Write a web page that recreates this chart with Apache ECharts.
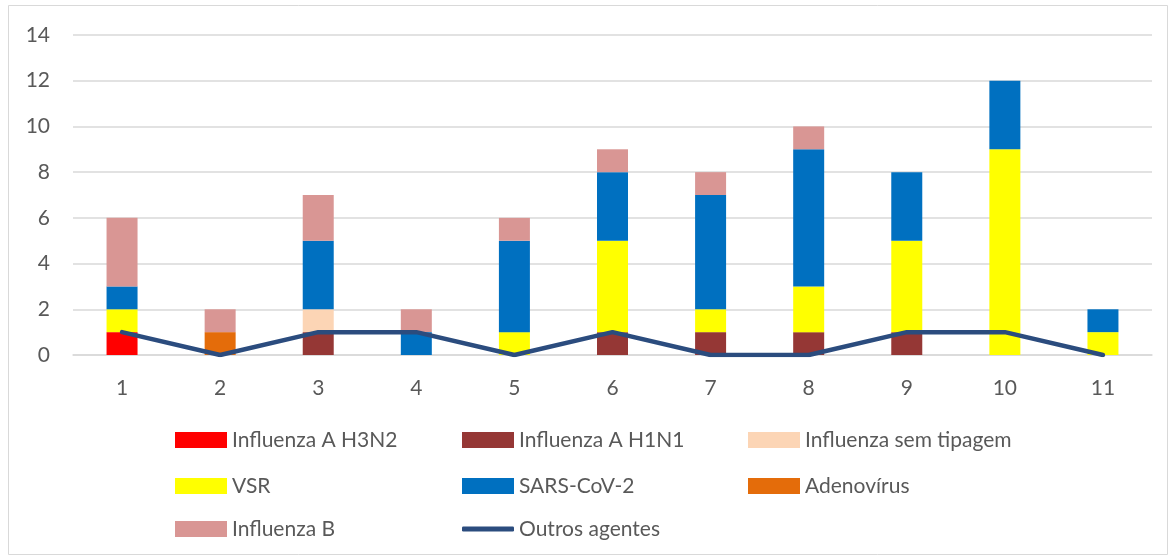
<!DOCTYPE html>
<html><head><meta charset="utf-8">
<script src="https://cdn.jsdelivr.net/npm/echarts@6/dist/echarts.min.js"></script>
<style>html,body{margin:0;padding:0;background:#fff}#c{width:1176px;height:557px}</style>
</head><body><div id="c"></div>
<script>
const categories = ['1','2','3','4','5','6','7','8','9','10','11'];
const h3n2      = [1,0,0,0,0,0,0,0,0,0,0];
const h1n1      = [0,0,1,0,0,1,1,1,1,0,0];
const semTip    = [0,0,1,0,0,0,0,0,0,0,0];
const vsr       = [1,0,0,0,1,4,1,2,4,9,1];
const sars      = [1,0,3,1,4,3,5,6,3,3,1];
const adeno     = [0,1,0,0,0,0,0,0,0,0,0];
const fluB      = [3,1,2,1,1,1,1,1,0,0,0];
const outros    = [1,0,1,1,0,1,0,0,1,1,0];
const yTicks    = [0,2,4,6,8,10,12,14];

const FONT = 'Lato';
const FS = 21;
const txt = '#595959';
const barSeries = [
  ['Influenza A H3N2', h3n2, '#FF0000'],
  ['Influenza A H1N1', h1n1, '#953735'],
  ['Influenza sem tipagem', semTip, '#FCD5B5'],
  ['VSR', vsr, '#FFFF00'],
  ['SARS-CoV-2', sars, '#0070C0'],
  ['Adenovírus', adeno, '#E46C0A'],
  ['Influenza B', fluB, '#D99694']
];
const series = barSeries.map(([name, data, color]) => ({
  name, type: 'bar', stack: 'total', data, barWidth: 31,
  itemStyle: {color}, emphasis: {disabled: true}
}));
series.push({
  name: 'Outros agentes', type: 'line', data: outros, symbol: 'none',
  lineStyle: {color: '#2B4C7E', width: 4.5, cap: 'round', join: 'round'},
  itemStyle: {color: '#2B4C7E'}, z: 10
});

const legendPos = [
  ['Influenza A H3N2', 175, 440],
  ['Influenza A H1N1', 462, 440],
  ['Influenza sem tipagem', 748, 440],
  ['VSR', 175, 486],
  ['SARS-CoV-2', 462, 486],
  ['Adenovírus', 748, 486],
  ['Influenza B', 175, 529],
  ['Outros agentes', 462, 529]
];
const legends = legendPos.map(([name, left, cy]) => {
  const isLine = name === 'Outros agentes';
  const h = isLine ? 5 : 16;
  return {
    data: [{name, icon: isLine ? 'roundRect' : 'rect'}],
    left, top: cy - 12, height: 24, itemWidth: 52, itemHeight: h, itemGap: 5,
    padding: 0, selectedMode: false,
    textStyle: {fontFamily: FONT, fontSize: FS, color: txt, lineHeight: 24}
  };
});

const chart = echarts.init(document.getElementById('c'), null, {renderer: 'canvas'});
chart.setOption({
  animation: false,
  backgroundColor: '#fff',
  graphic: [{type: 'rect', shape: {x: 8.5, y: 5.5, width: 1159, height: 549},
    style: {fill: 'none', stroke: '#D9D9D9', lineWidth: 1}, silent: true}],
  legend: legends,
  grid: {left: 73, right: 24, top: 35, bottom: 202, containLabel: false},
  xAxis: {
    type: 'category', data: categories,
    axisLine: {show: true, lineStyle: {color: '#D9D9D9', width: 1.5}},
    axisTick: {show: false},
    axisLabel: {fontFamily: FONT, fontSize: FS, color: txt, margin: 23}
  },
  yAxis: {
    type: 'value', min: 0, max: 14, interval: 2,
    axisLine: {show: false}, axisTick: {show: false},
    splitLine: {lineStyle: {color: '#D9D9D9', width: 1.5}},
    axisLabel: {fontFamily: FONT, fontSize: FS, color: txt, margin: 23,
      formatter: v => yTicks.includes(v) ? String(v) : ''}
  },
  series
});
</script></body></html>
